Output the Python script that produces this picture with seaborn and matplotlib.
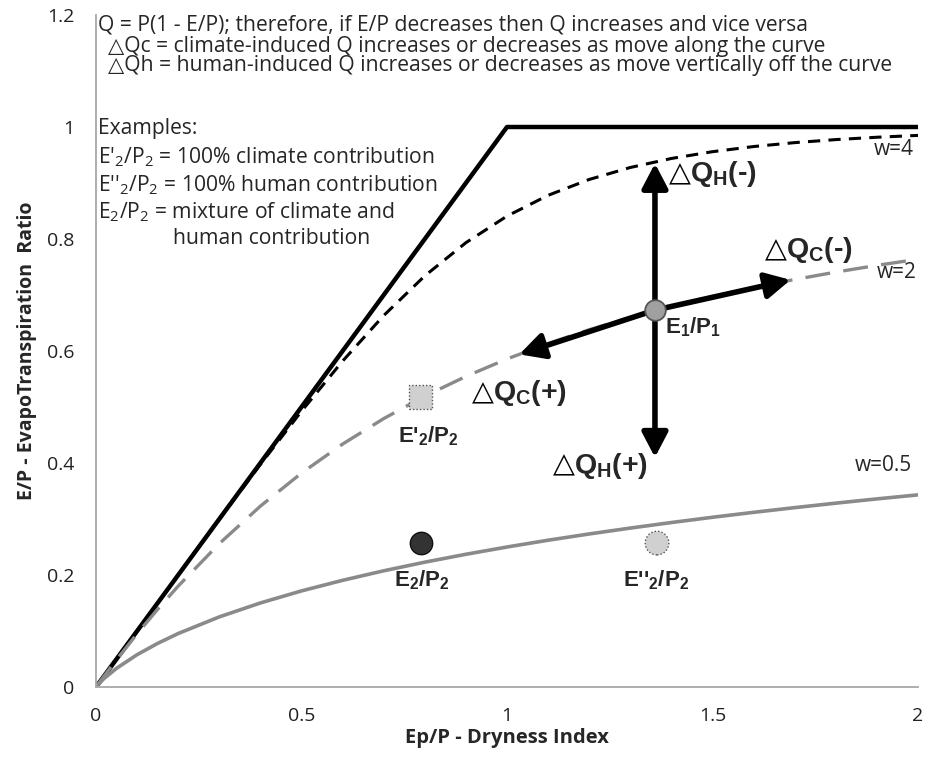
import matplotlib
matplotlib.use("Agg")
import matplotlib.pyplot as plt
import seaborn as sns
import pandas as pd

# ---------------- data ----------------
x_vals = [0, 0.01, 0.02, 0.05, 0.1, 0.15, 0.2, 0.3, 0.4, 0.5, 0.6, 0.7, 0.8, 0.9,
          1.0, 1.1, 1.2, 1.3, 1.4, 1.5, 1.6, 1.7, 1.8, 1.9, 2.0]
w4_vals = [0, 0.01, 0.02, 0.05, 0.1, 0.15, 0.1999, 0.2994, 0.3975, 0.4925, 0.5820,
           0.6633, 0.7342, 0.7934, 0.8409, 0.8780, 0.9063, 0.9277, 0.9438, 0.9559,
           0.9651, 0.9721, 0.9775, 0.9817, 0.9850]
w2_vals = [0, 0.0100, 0.0198, 0.0488, 0.0950, 0.1388, 0.1802, 0.2560, 0.3230, 0.3820,
           0.4338, 0.4793, 0.5194, 0.5546, 0.5858, 0.6134, 0.6380, 0.6599, 0.6795,
           0.6972, 0.7132, 0.7277, 0.7409, 0.7529, 0.7639]
w05_vals = [0, 0.0083, 0.0154, 0.0334, 0.0577, 0.0779, 0.0955, 0.1252, 0.1501, 0.1716,
            0.1905, 0.2075, 0.2229, 0.2370, 0.2500, 0.2621, 0.2733, 0.2838, 0.2937,
            0.3031, 0.3119, 0.3203, 0.3283, 0.3359, 0.3431]
limit_x = [0, 1, 2]
limit_y = [0, 1, 1]

point_names = ["E1/P1", "E2/P2", "E'2/P2", "E''2/P2"]
point_x = [1.36, 0.79, 0.79, 1.365]
point_y = [0.673, 0.257, 0.518, 0.257]

# arrows from E1/P1: tip coordinates
arrow_names = ["dQH-", "dQH+", "dQC-", "dQC+"]
arrow_tip_x = [1.36, 1.36, 1.69, 1.03]
arrow_tip_y = [0.935, 0.41, 0.727, 0.594]

x_ticks = [0, 0.5, 1, 1.5, 2]
x_tick_labels = ["0", "0.5", "1", "1.5", "2"]
y_ticks = [0, 0.2, 0.4, 0.6, 0.8, 1.0, 1.2]
y_tick_labels = ["0", "0.2", "0.4", "0.6", "0.8", "1", "1.2"]

# ---------------- style ----------------
sns.set_style("white")
REG = ["Open Sans", "DejaVu Sans"]
BOLD = "Liberation Sans"
plt.rcParams["font.family"] = REG
plt.rcParams["mathtext.fontset"] = "custom"
plt.rcParams["mathtext.rm"] = "Open Sans"
plt.rcParams["mathtext.bf"] = "Liberation Sans:bold"

fig = plt.figure(figsize=(9.39, 7.57), dpi=100)
ax = fig.add_axes([96 / 939, 70 / 757, 822 / 939, 672 / 757])

GRAY = "#8a8a8a"
df = pd.DataFrame({"x": x_vals, "w4": w4_vals, "w2": w2_vals, "w05": w05_vals})

sns.lineplot(x=limit_x, y=limit_y, ax=ax, color="black", linewidth=3.2,
             estimator=None, sort=False, solid_capstyle="butt")
sns.lineplot(data=df, x="x", y="w4", ax=ax, color="black", linewidth=2.2,
             estimator=None, sort=False, linestyle=(0, (4.0, 2.7)))
sns.lineplot(data=df, x="x", y="w2", ax=ax, color=GRAY, linewidth=2.4,
             estimator=None, sort=False, linestyle=(0, (7.5, 4.0)))
sns.lineplot(data=df, x="x", y="w05", ax=ax, color=GRAY, linewidth=2.6,
             estimator=None, sort=False)

# arrows
for tx, ty in zip(arrow_tip_x, arrow_tip_y):
    ax.annotate("", xy=(tx, ty), xytext=(point_x[0], point_y[0]),
                arrowprops=dict(arrowstyle="-|>,head_length=0.44,head_width=0.23",
                                lw=4.0, color="black", mutation_scale=34,
                                shrinkA=0, shrinkB=0), zorder=4)

# points
pts = pd.DataFrame({"name": point_names, "x": point_x, "y": point_y})
sns.scatterplot(data=pts.iloc[[0]], x="x", y="y", ax=ax, s=220, color="#a0a0a0",
                edgecolor="#555555", linewidth=1.3, zorder=6)
sns.scatterplot(data=pts.iloc[[1]], x="x", y="y", ax=ax, s=260, color="#333333",
                edgecolor="#111111", linewidth=1.0, zorder=6)
sns.scatterplot(data=pts.iloc[[2]], x="x", y="y", ax=ax, s=280, marker="s",
                color="#d0d0d0", edgecolor="#555555", linewidth=1.0, zorder=6)
ax.collections[-1].set_linestyle((0, (1, 1.5)))
sns.scatterplot(data=pts.iloc[[3]], x="x", y="y", ax=ax, s=290, color="#d0d0d0",
                edgecolor="#555555", linewidth=1.0, zorder=6)
ax.collections[-1].set_linestyle((0, (1, 1.5)))

# axes styling
ax.set_xlim(0, 2)
ax.set_ylim(0, 1.2)
ax.set_xticks(x_ticks)
ax.set_xticklabels(x_tick_labels)
ax.set_yticks(y_ticks)
ax.set_yticklabels(y_tick_labels)
for s in ["top", "right"]:
    ax.spines[s].set_visible(False)
for s in ["left", "bottom"]:
    ax.spines[s].set_color("#a8a8a8")
    ax.spines[s].set_linewidth(1.3)
ax.tick_params(axis="both", direction="out", length=5.5, width=1.2, color="#a8a8a8",
               labelsize=14, labelcolor="#222222")
ax.tick_params(axis="y", pad=10)
ax.tick_params(axis="x", pad=9)
ax.set_xlabel("Ep/P - Dryness Index", fontsize=14.5, fontweight="bold",
              family=REG, labelpad=2)
ax.set_ylabel("E/P - EvapoTranspiration  Ratio", fontsize=14, fontweight="bold",
              family=REG, labelpad=7)

# annotation text block
fs_block = 15.2
ax.text(0.005, 1.182, "Q = P(1 - E/P); therefore, if E/P decreases then Q increases and vice versa",
        fontsize=fs_block, va="center", family=REG)
ax.text(0.03, 1.143, "\u25b3Qc = climate-induced Q increases or decreases as move along the curve",
        fontsize=fs_block, va="center", family=REG)
ax.text(0.03, 1.109, "\u25b3Qh = human-induced Q increases or decreases as move vertically off the curve",
        fontsize=fs_block, va="center", family=REG)
ax.text(0.005, 0.998, "Examples:", fontsize=fs_block, va="center", family=REG)
ax.text(0.005, 0.946, r"E'$\mathregular{_2}$/P$\mathregular{_2}$ = 100% climate contribution",
        fontsize=fs_block, va="center", family=REG)
ax.text(0.005, 0.896, r"E''$\mathregular{_2}$/P$\mathregular{_2}$ = 100% human contribution",
        fontsize=fs_block, va="center", family=REG)
ax.text(0.005, 0.848, r"E$\mathregular{_2}$/P$\mathregular{_2}$ = mixture of climate and",
        fontsize=fs_block, va="center", family=REG)
ax.text(0.187, 0.800, "human contribution", fontsize=fs_block, va="center", family=REG)

# curve labels
ax.text(1.893, 0.959, "w=4", fontsize=15, va="center", family=REG)
ax.text(1.900, 0.741, "w=2", fontsize=15, va="center", family=REG)
ax.text(1.845, 0.395, "w=0.5", fontsize=15, va="center", family=REG)

# bold delta labels: triangle glyph + bold text with subscript
renderer = fig.canvas.get_renderer()


def delta_label(x, y, sub, sign, size=20.5):
    t = ax.text(x, y, "\u25b3", fontsize=size, va="baseline", family="DejaVu Sans",
                color="black")
    w = t.get_window_extent(renderer).width
    ax.annotate("Q$_\\mathbf{%s}$(%s)" % (sub, sign), xy=(x, y), xycoords="data",
                xytext=(w - 1, 0), textcoords="offset pixels", fontsize=size,
                fontweight="bold", va="baseline", family=BOLD)


delta_label(1.394, 0.903, "H", "-")
delta_label(1.628, 0.767, "C", "-")
delta_label(0.915, 0.512, "C", "+")
delta_label(1.112, 0.383, "H", "+")

ax.text(1.385, 0.643, "E$_\\mathbf{1}$/P$_\\mathbf{1}$", fontsize=16, fontweight="bold",
        va="center", family=BOLD)
ax.text(0.735, 0.447, "E'$_\\mathbf{2}$/P$_\\mathbf{2}$", fontsize=16, fontweight="bold",
        va="center", family=BOLD)
ax.text(0.793, 0.19, "E$_\\mathbf{2}$/P$_\\mathbf{2}$", fontsize=16, fontweight="bold",
        va="center", ha="center", family=BOLD)
ax.text(1.363, 0.19, "E''$_\\mathbf{2}$/P$_\\mathbf{2}$", fontsize=16, fontweight="bold",
        va="center", ha="center", family=BOLD)

fig.savefig("out.png", dpi=100)
